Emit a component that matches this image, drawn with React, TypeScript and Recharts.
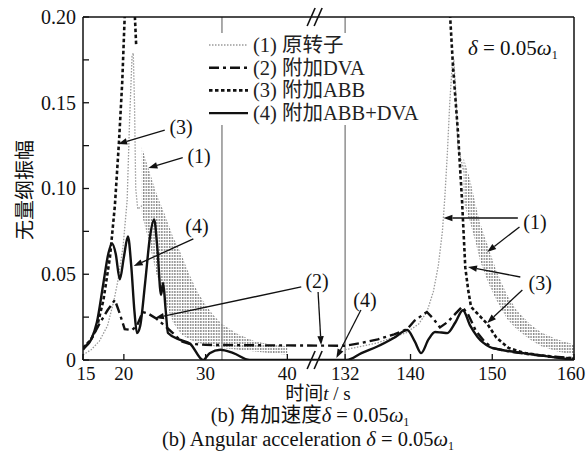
import React from 'react';
import {
  ComposedChart,
  Line,
  Area,
  XAxis,
  YAxis,
  ReferenceLine,
  ReferenceDot,
} from 'recharts';

// broken time axis: 15-40 s, then 132-160 s
const BREAK_LO = 40;
const BREAK_HI = 132;
const GAP = 7.07; // blank axis units drawn between 40 and 132
const toAxis = (t: number) => (t <= BREAK_LO ? t : t - BREAK_HI + BREAK_LO + GAP);

const xTickTimes = [15, 20, 30, 40, 132, 140, 150, 160];
const yTicks = [0, 0.025, 0.05, 0.075, 0.1, 0.125, 0.15, 0.175, 0.2];

// (1) original rotor - thin part of the curve [t, amp]
const rotorLeft: [number, number][] = [
  [15, 0.003], [16, 0.006], [17, 0.011], [18, 0.02], [18.8, 0.035], [19.3, 0.047],
  [19.9, 0.066], [20.4, 0.093], [20.7, 0.14], [21.0, 0.177], [21.15, 0.179],
  [21.3, 0.15], [21.45, 0.1], [21.7, 0.088], [22.2, 0.09],
];
const rotorRight: [number, number][] = [
  [132, 0.006], [136, 0.01], [139.5, 0.016], [141, 0.021], [142, 0.028], [142.8, 0.04],
  [143.4, 0.055], [143.9, 0.075], [144.2, 0.095], [144.5, 0.12], [144.8, 0.15],
  [145.1, 0.172], [145.3, 0.174], [145.5, 0.16], [145.8, 0.125], [146.5, 0.11],
];
// (1) oscillating part, drawn as its envelope [t, low, high]
const rotorBandLeft: [number, number, number][] = [
  [22.2, 0.085, 0.124], [23, 0.07, 0.112], [24, 0.05, 0.097], [25, 0.035, 0.085],
  [26, 0.022, 0.072], [27, 0.015, 0.062], [28, 0.012, 0.05], [29, 0.01, 0.04],
  [30, 0.009, 0.032], [31, 0.008, 0.026], [32, 0.007, 0.021], [34, 0.006, 0.015],
  [36, 0.005, 0.011], [38, 0.004, 0.009], [40, 0.003, 0.008],
];
const rotorBandRight: [number, number, number][] = [
  [146.5, 0.092, 0.118], [147.3, 0.08, 0.105], [148, 0.068, 0.09], [148.5, 0.058, 0.08],
  [149.5, 0.045, 0.066], [150.5, 0.035, 0.052], [151.8, 0.024, 0.038], [153, 0.018, 0.029],
  [154.6, 0.012, 0.021], [156, 0.008, 0.016], [158, 0.005, 0.012], [160, 0.003, 0.009],
];

// (2) with DVA
const withDva: [number, number][] = [
  [15, 0.006], [16, 0.012], [17, 0.021], [18, 0.029], [18.9, 0.035], [19.5, 0.027],
  [20.1, 0.018], [21, 0.0175], [21.6, 0.02], [22.3, 0.028], [23, 0.027], [24, 0.024],
  [25, 0.02], [26, 0.0157], [27, 0.011], [28, 0.0095], [30, 0.0088], [35, 0.0086],
  [40, 0.0085], [132, 0.0083], [134, 0.01], [136, 0.012], [138, 0.015], [139.6, 0.018],
  [140.5, 0.023], [142, 0.028], [142.8, 0.024], [143.6, 0.019], [144.5, 0.022],
  [145.5, 0.027], [146.3, 0.031], [147, 0.027], [148, 0.017], [149, 0.011], [150, 0.007],
  [152, 0.005], [155, 0.003], [160, 0.001],
];

// (3) with ABB
const withAbbLeft: [number, number][] = [
  [15, 0.007], [16, 0.012], [16.7, 0.019], [17.5, 0.035], [18.3, 0.06], [18.9, 0.09],
  [19.4, 0.127], [19.8, 0.162], [20.1, 0.2], [20.5, 0.24], [21.2, 0.24], [21.35, 0.2],
  [21.5, 0.184],
];
const withAbbRight: [number, number][] = [
  [144.7, 0.24], [144.85, 0.2], [145.2, 0.171], [145.8, 0.133], [146.3, 0.093],
  [146.7, 0.054], [147.05, 0.041], [147.4, 0.031], [148, 0.028], [148.6, 0.025],
  [149.4, 0.021], [150.5, 0.013], [152, 0.007], [154, 0.004], [157, 0.002], [160, 0.0008],
];

// (4) with ABB + DVA
const withBoth: [number, number][] = [
  [15, 0.007], [16, 0.012], [16.7, 0.022], [17.5, 0.045], [18.1, 0.062], [18.55, 0.068],
  [19, 0.062], [19.5, 0.047], [20, 0.06], [20.5, 0.072], [20.9, 0.055], [21.3, 0.028],
  [21.6, 0.0157], [22, 0.02], [22.6, 0.045], [23.2, 0.072], [23.7, 0.082], [24.1, 0.065],
  [24.55, 0.038], [24.8, 0.045], [25.1, 0.03], [25.4, 0.0157], [26.9, 0.0117],
  [28.1, 0.0095], [29.7, 0], [30.5, 0.004], [31.8, 0.006], [33.4, 0.004], [35.4, 0],
  [40, 0], [132.2, 0], [134, 0.004], [136, 0.008], [138, 0.013], [139.6, 0.0175],
  [140.5, 0.011], [141.3, 0.004], [142.2, 0.012], [143, 0.0163], [143.8, 0.016],
  [144.5, 0.0157], [145.5, 0.022], [146.4, 0.029], [147.3, 0.02], [148.2, 0.0134],
  [149.7, 0.0076], [151, 0.006], [153.8, 0.004], [157, 0.002], [160, 0],
];

// annotation arrows, in axis units: [label, from x, from y, to x, to y]
const arrows: [string, number, number, number, number][] = [
  ['(3)', 25.0, 0.134, 19.3, 0.126],
  ['(1)', 27.2, 0.118, 23.0, 0.112],
  ['(4)', 28.5, 0.0706, 21.2, 0.0548],
  ['(2)', 41.7, 0.0426, 23.8, 0.0245],
  ['(2)', 43.76, 0.0397, 44.13, 0.0087],
  ['(4)', 49.0, 0.0292, 46.0, 0.0012],
  ['(1)', 68.2, 0.0828, 59.1, 0.0828],
  ['(1)', 68.4, 0.0776, 64.45, 0.063],
  ['(3)', 68.5, 0.0484, 62.1, 0.0542],
  ['(3)', 68.75, 0.0408, 64.45, 0.0216],
];
const labels: [string, number, number][] = [
  ['(3)', 27.0, 0.136],
  ['(1)', 29.2, 0.119],
  ['(4)', 28.95, 0.078],
  ['(2)', 43.64, 0.046],
  ['(4)', 49.5, 0.035],
  ['(1)', 70.3, 0.0805],
  ['(3)', 70.94, 0.0449],
];

const FONT = "'Liberation Serif', 'DejaVu Serif', 'Noto Sans CJK SC', serif";
const INK = '#111';
const FS = 20;
const TICK_FS = 19;

const pts = (arr: [number, number][]) => arr.map(([t, v]) => ({ x: toAxis(t), y: v }));
const band = (arr: [number, number, number][]) =>
  arr.map(([t, lo, hi]) => ({ x: toAxis(t), r: [lo, hi] }));

const xTickLabel = (u: number) => {
  const i = xTickTimes.findIndex((t) => Math.abs(toAxis(t) - u) < 0.01);
  return i >= 0 ? String(xTickTimes[i]) : '';
};
const yTickLabel = (v: number) => {
  const m = Math.round(v * 1000);
  if (m % 50 !== 0) return '';
  return m === 0 ? '0' : v.toFixed(2);
};

const XTick = (p: any) => {
  const label = xTickLabel(p.payload.value);
  const dx = label === '15' ? 3 : label === '160' ? -3 : 0;
  return (
    <text x={p.x + dx} y={p.y} dy="0.72em" textAnchor="middle" fontSize={TICK_FS} fill={INK} style={{ fontFamily: FONT }}>
      {label}
    </text>
  );
};
const YTick = (p: any) => (
  <text x={p.x} y={p.y} dy="0.34em" textAnchor="end" fontSize={TICK_FS + 1} fill={INK} style={{ fontFamily: FONT }}>
    {yTickLabel(p.payload.value)}
  </text>
);

const arrowShape = (p: any) => {
  const { x1, y1, x2, y2 } = p;
  const a = Math.atan2(y2 - y1, x2 - x1);
  const L = 9;
  const W = 3.2;
  const bx = x2 - L * Math.cos(a);
  const by = y2 - L * Math.sin(a);
  const px = -Math.sin(a) * W;
  const py = Math.cos(a) * W;
  return (
    <g>
      <line x1={x1} y1={y1} x2={bx} y2={by} stroke={INK} strokeWidth={1.3} />
      <polygon points={`${x2},${y2} ${bx + px},${by + py} ${bx - px},${by - py}`} fill={INK} />
    </g>
  );
};

const labelShape = (text: string) => (p: any) => (
  <text
    x={p.cx}
    y={p.cy}
    textAnchor="middle"
    dominantBaseline="central"
    fontSize={FS}
    fill={INK}
    style={{ fontFamily: FONT }}
  >
    {text}
  </text>
);

const legendRows = [
  { text: '(1) 原转子', stroke: '#9a9a9a', width: 1.3, dash: '1.5 1.5' },
  { text: '(2) 附加DVA', stroke: INK, width: 2.4, dash: '10 4 3 4' },
  { text: '(3) 附加ABB', stroke: INK, width: 2.6, dash: '3.5 2.5' },
  { text: '(4) 附加ABB+DVA', stroke: INK, width: 2.4, dash: undefined },
];

export default function App() {
  const xTicks = xTickTimes.map(toAxis);
  const x40 = 83 + (toAxis(40) - 15) * 8.17;
  const x132 = 83 + (toAxis(132) - 15) * 8.17;
  const xBreak = (x40 + x132) / 2;

  return (
    <div
      style={{
        position: 'absolute',
        left: 0,
        top: 0,
        width: 586,
        height: 462,
        background: '#fff',
        fontFamily: FONT,
      }}
    >
      <ComposedChart
        width={586}
        height={462}
        margin={{ top: 17, right: 12, bottom: 72, left: 23 }}
      >
        <defs>
          <pattern id="rotorHatch" width="2.6" height="3" patternUnits="userSpaceOnUse">
            <rect x="0" y="0" width="1.4" height="2" fill="#8a8a8a" />
          </pattern>
        </defs>
        <XAxis
          dataKey="x"
          type="number"
          domain={[15, toAxis(160)]}
          allowDataOverflow
          ticks={xTicks}
          interval={0}
          height={30}
          tickSize={-6}
          tickMargin={12}
          axisLine={{ stroke: INK, strokeWidth: 1.5 }}
          tickLine={{ stroke: INK, strokeWidth: 1.3 }}
          tick={<XTick />}
        />
        <YAxis
          type="number"
          domain={[0, 0.2]}
          allowDataOverflow
          ticks={yTicks}
          interval={0}
          width={60}
          tickSize={-6}
          tickMargin={13}
          axisLine={{ stroke: INK, strokeWidth: 1.5 }}
          tickLine={{ stroke: INK, strokeWidth: 1.3 }}
          tick={<YTick />}
        />
        <ReferenceLine x={32} stroke="#8f8f8f" strokeWidth={1.5} />
        <ReferenceLine x={toAxis(132)} stroke="#8f8f8f" strokeWidth={1.5} />

        <Area data={band(rotorBandLeft)} dataKey="r" type="linear" stroke="none" fill="url(#rotorHatch)" fillOpacity={1} isAnimationActive={false} />
        <Area data={band(rotorBandRight)} dataKey="r" type="linear" stroke="none" fill="url(#rotorHatch)" fillOpacity={1} isAnimationActive={false} />
        <Line data={pts(rotorLeft)} dataKey="y" type="linear" stroke="#9a9a9a" strokeWidth={1.3} strokeDasharray="1.5 1.5" dot={false} isAnimationActive={false} />
        <Line data={pts(rotorRight)} dataKey="y" type="linear" stroke="#9a9a9a" strokeWidth={1.3} strokeDasharray="1.5 1.5" dot={false} isAnimationActive={false} />
        <Line data={pts(withDva)} dataKey="y" type="linear" stroke={INK} strokeWidth={2.4} strokeDasharray="10 4 3 4" dot={false} isAnimationActive={false} />
        <Line data={pts(withAbbLeft)} dataKey="y" type="linear" stroke={INK} strokeWidth={2.6} strokeDasharray="3.5 2.5" dot={false} isAnimationActive={false} />
        <Line data={pts(withAbbRight)} dataKey="y" type="linear" stroke={INK} strokeWidth={2.6} strokeDasharray="3.5 2.5" dot={false} isAnimationActive={false} />
        <Line data={pts(withBoth)} dataKey="y" type="monotone" stroke={INK} strokeWidth={2.4} dot={false} isAnimationActive={false} />

        {arrows.map(([name, fx, fy, tx, ty], i) => (
          <ReferenceLine
            key={`arrow-${i}`}
            segment={[{ x: fx, y: fy }, { x: tx, y: ty }]}
            shape={arrowShape}
            ifOverflow="visible"
            name={name}
          />
        ))}
        {labels.map(([text, lx, ly], i) => (
          <ReferenceDot key={`label-${i}`} x={lx} y={ly} r={1} shape={labelShape(text)} ifOverflow="visible" />
        ))}
      </ComposedChart>

      <svg
        width={586}
        height={462}
        style={{ position: 'absolute', left: 0, top: 0, pointerEvents: 'none', fontFamily: FONT }}
        fill={INK}
      >
        {/* frame top and right */}
        <line x1={83} y1={17} x2={574} y2={17} stroke={INK} strokeWidth={1.5} />
        <line x1={574} y1={17} x2={574} y2={360} stroke={INK} strokeWidth={1.5} />
        {/* axis break marks */}
        {[17, 360].map((y) => (
          <g key={y} stroke={INK} strokeWidth={1.6}>
            <line x1={xBreak - 9} y1={y + 9} x2={xBreak - 1} y2={y - 9} />
            <line x1={xBreak - 2} y1={y + 9} x2={xBreak + 6} y2={y - 9} />
          </g>
        ))}

        {/* legend */}
        <rect x={203} y={33} width={236} height={92} fill="#fff" />
        {legendRows.map((r, i) => {
          const y = 45 + i * 22.7;
          return (
            <g key={r.text}>
              <line x1={209} y1={y} x2={248} y2={y} stroke={r.stroke} strokeWidth={r.width} strokeDasharray={r.dash} />
              <text x={253} y={y} dominantBaseline="central" fontSize={FS + 0.5} fill="#222">{r.text}</text>
            </g>
          );
        })}

        <text x={468} y={55} fontSize={FS + 1}>
          <tspan fontStyle="italic">δ</tspan>
          <tspan> = 0.05</tspan>
          <tspan fontStyle="italic">ω</tspan>
          <tspan fontSize={12} dy={4}>1</tspan>
        </text>

        <text transform="translate(25,190) rotate(-90)" textAnchor="middle" dominantBaseline="central" fontSize={FS} fill={INK}>
          无量纲振幅
        </text>
        <text x={318} y={400} textAnchor="middle" fontSize={FS - 1}>
          时间<tspan fontStyle="italic">t</tspan> / s
        </text>
        <text x={310} y={422} textAnchor="middle" fontSize={FS + 0.5}>
          (b) 角加速度<tspan fontStyle="italic">δ</tspan> = 0.05<tspan fontStyle="italic">ω</tspan>
          <tspan fontSize={12} dy={4}>1</tspan>
        </text>
        <text x={308} y={446} textAnchor="middle" fontSize={FS + 0.5}>
          (b) Angular acceleration <tspan fontStyle="italic">δ</tspan> = 0.05<tspan fontStyle="italic">ω</tspan>
          <tspan fontSize={12} dy={4}>1</tspan>
        </text>
      </svg>
    </div>
  );
}
